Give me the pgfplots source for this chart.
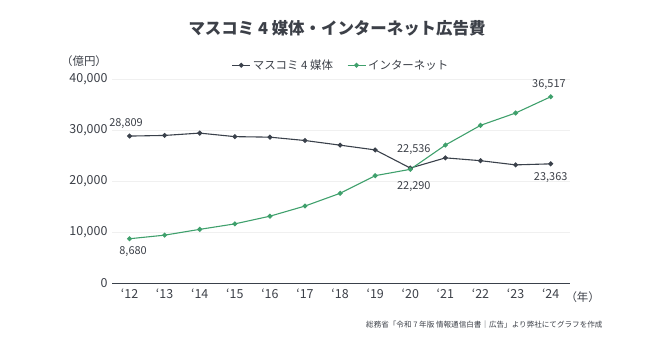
\documentclass[border=0pt]{standalone}
\usepackage{fontspec}
\setmainfont{Noto Sans CJK JP}
\usepackage{pgfplots}
\pgfplotsset{compat=1.18}
\definecolor{dark}{HTML}{3A414B}
\definecolor{grn}{HTML}{3FA06C}
\definecolor{txt}{HTML}{3C4048}
\begin{document}
\begin{tikzpicture}[x=1bp,y=1bp]
\path[use as bounding box] (0,0) rectangle (670,350);
\node[font=\bfseries\fontsize{16.5}{18}\selectfont, text=txt] at (337,322) {マスコミ 4 媒体・インターネット広告費};
\node[font=\fontsize{11.5}{12}\selectfont, text=txt] at (84,289) {（億円）};
\node[anchor=east, font=\fontsize{7.6}{8}\selectfont, text=txt] at (606,25) {総務省「令和 7 年版 情報通信白書｜広告」より弊社にてグラフを作成};
\node[anchor=west, font=\fontsize{11.5}{12}\selectfont, text=txt] at (562,53) {（年）};
\begin{axis}[
  at={(112bp,67bp)}, anchor=south west, scale only axis,
  width=458bp, height=204bp,
  xmin=2011.5, xmax=2024.55, ymin=0, ymax=40000,
  axis x line*=bottom, axis y line*=left,
  y axis line style={draw=none},
  x axis line style={draw=dark, line width=1pt},
  major tick length=0pt,
  ytick={0,10000,20000,30000,40000},
  ymajorgrids, grid style={draw=gray!12, line width=0.6pt},
  xtick={2012,...,2024},
  xticklabels={‘12,‘13,‘14,‘15,‘16,‘17,‘18,‘19,‘20,‘21,‘22,‘23,‘24},
  scaled y ticks=false,
  /pgf/number format/.cd, 1000 sep={,}, assume math mode=true, /pgfplots/.cd,
  tick label style={font=\fontsize{12.5}{13}\selectfont, text=txt},
  yticklabel style={xshift=-1bp},
  xticklabel style={yshift=-2bp},
  legend style={at={(0.5,1)}, anchor=south, yshift=4bp, draw=none, fill=none,
    font=\fontsize{11.5}{12}\selectfont, text=txt, legend columns=2,
    /tikz/every even column/.append style={column sep=12bp}},
  legend image code/.code={\draw[mark repeat=2,mark phase=2] plot coordinates {(0bp,0bp)(9bp,0bp)(18bp,0bp)};},
  clip=false,
]
\addplot[dark, line width=1.1pt, mark=*, mark size=1.9pt] coordinates {
(2012,28809)(2013,28935)(2014,29393)(2015,28699)(2016,28596)(2017,27938)(2018,27026)(2019,26094)(2020,22536)(2021,24538)(2022,23985)(2023,23161)(2024,23363)};
\addlegendentry{マスコミ 4 媒体}
\addplot[grn, line width=1.1pt, mark=*, mark size=1.9pt] coordinates {
(2012,8680)(2013,9381)(2014,10519)(2015,11594)(2016,13100)(2017,15094)(2018,17589)(2019,21048)(2020,22290)(2021,27052)(2022,30912)(2023,33330)(2024,36517)};
\addlegendentry{インターネット}
\begin{scope}[every node/.style={font=\fontsize{11}{12}\selectfont, text=txt}]
\node[anchor=south] at (axis cs:2011.9,29500) {28,809};
\node[anchor=north] at (axis cs:2012.1,7800) {8,680};
\node[anchor=south] at (axis cs:2020.1,24400) {22,536};
\node[anchor=north] at (axis cs:2020.1,20500) {22,290};
\node[anchor=south] at (axis cs:2023.95,37300) {36,517};
\node[anchor=north] at (axis cs:2024.0,22300) {23,363};
\end{scope}
\end{axis}
\end{tikzpicture}
\end{document}
